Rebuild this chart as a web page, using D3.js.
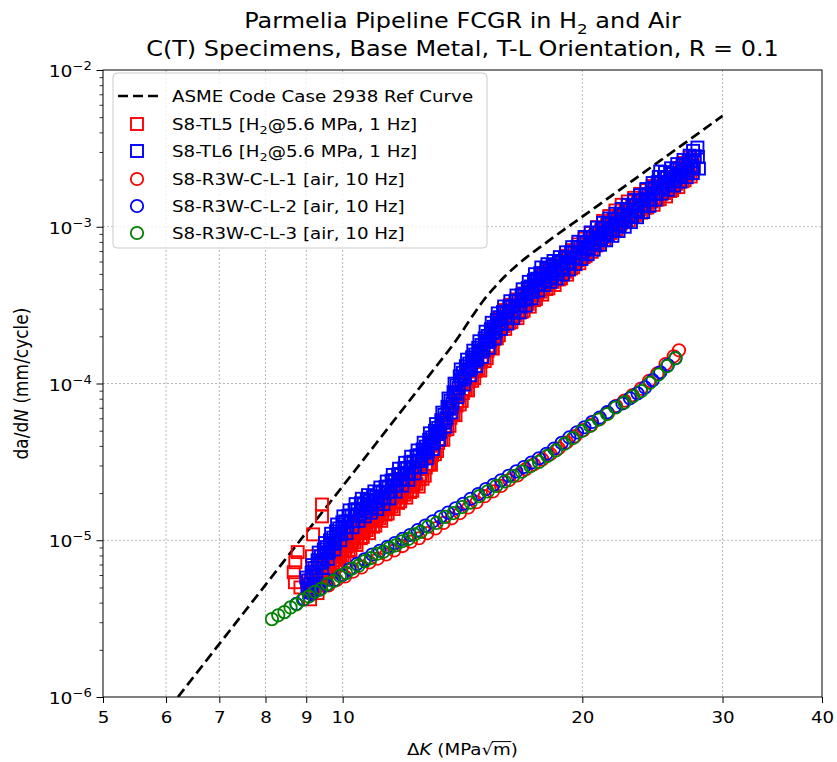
<!DOCTYPE html>
<html><head><meta charset="utf-8">
<script src="https://cdn.jsdelivr.net/npm/d3@7"></script>
<style>body{margin:0;background:#fff;} text{font-family:"DejaVu Sans",sans-serif;fill:#000;}</style>
</head><body><svg id="chart" width="837" height="762"></svg>
<script>
// ---------- data ----------
const xTickValues = [5, 6, 7, 8, 9, 10, 20, 30, 40];
const yTickValues = [1e-6, 1e-5, 1e-4, 1e-3, 1e-2];
const yTickExponents = ["−6", "−5", "−4", "−3", "−2"];

// ASME Code Case 2938 reference curve
const refK = [6.21, 7, 8, 9, 10, 11, 12, 13, 14, 14.5, 15, 15.5, 16, 16.5, 17, 18, 20, 22, 25, 28, 30];
const refRate = [1.0e-6, 2.18e-6, 5.19e-6, 1.12e-5, 2.21e-5, 4.11e-5, 7.24e-5, 1.22e-4, 2.0e-4, 2.62e-4, 3.35e-4, 4.08e-4, 4.85e-4, 5.6e-4, 6.35e-4, 7.9e-4, 1.16e-3, 1.64e-3, 2.62e-3, 3.96e-3, 5.1e-3];

// S8-TL5 [H2] red squares
const tl5K = [8.71, 8.68, 8.72, 8.78, 9.10, 9.15, 9.18, 9.42, 9.42, 8.85, 9.30,
  9.05, 9.16, 9.27, 9.39, 9.50, 9.61, 9.73, 9.84, 9.96, 10.08,
  10.20, 10.32, 10.44, 10.57, 10.69, 10.82, 10.96, 11.09, 11.22, 11.36,
  11.49, 11.63, 11.77, 11.91, 12.05, 12.19, 12.34, 12.49, 12.64, 12.80,
  12.95, 13.10, 13.26, 13.42, 13.58, 13.74, 13.90, 14.07, 14.24, 14.42,
  14.59, 14.76, 14.94, 15.12, 15.30, 15.48, 15.66, 15.85, 16.05, 16.24,
  16.43, 16.63, 16.83, 17.03, 17.23, 17.44, 17.66, 17.87, 18.08, 18.30,
  18.51, 18.74, 18.96, 19.19, 19.42, 19.66, 19.89, 20.13, 20.37, 20.61,
  20.86, 21.12, 21.37, 21.62, 21.88, 22.14, 22.41, 22.68, 22.95, 23.23,
  23.50, 23.78, 24.07, 24.37, 24.66, 24.95, 25.25, 25.55, 25.85, 26.17,
  26.48, 26.80, 27.12, 27.45,
  9.11, 9.22, 9.33, 9.44, 9.55, 9.67, 9.78, 9.90, 10.02, 10.14,
  10.26, 10.38, 10.51, 10.63, 10.76, 10.89, 11.02, 11.15, 11.29, 11.42,
  11.56, 11.70, 11.84, 11.98, 12.12, 12.27, 12.42, 12.56, 12.72, 12.87,
  13.02, 13.18, 13.34, 13.50, 13.66, 13.82, 13.99, 14.16, 14.33, 14.50,
  14.67, 14.85, 15.03, 15.21, 15.39, 15.57, 15.76, 15.95, 16.14, 16.33,
  16.53, 16.73, 16.93, 17.13, 17.34, 17.55, 17.76, 17.97, 18.19, 18.40,
  18.63, 18.85, 19.08, 19.30, 19.54, 19.77, 20.01, 20.25, 20.49, 20.74,
  20.99, 21.24, 21.49, 21.75, 22.01, 22.28, 22.54, 22.81, 23.09, 23.36,
  23.64, 23.93, 24.22, 24.51, 24.80, 25.10, 25.40, 25.70, 26.01, 26.32,
  26.64, 26.96, 27.28,
  9.08, 9.19, 9.30, 9.42, 9.53, 9.64, 9.76, 9.87, 9.99, 10.11,
  10.23, 10.35, 10.47, 10.60, 10.72, 10.85, 10.99, 11.12, 11.25, 11.39,
  11.52, 11.66, 11.81, 11.95, 12.09, 12.23, 12.38, 12.53, 12.68, 12.84,
  12.99, 13.14, 13.30, 13.46, 13.62, 13.78, 13.94, 14.11, 14.28, 14.46,
  14.63, 14.80, 14.98, 15.17, 15.35, 15.53, 15.71, 15.90, 16.10, 16.29,
  16.48, 16.68, 16.88, 17.08, 17.28, 17.49, 17.71, 17.92, 18.13, 18.35,
  18.57, 18.80, 19.02, 19.25, 19.48, 19.72, 19.95, 20.19, 20.43, 20.67,
  20.92, 21.18, 21.43, 21.68, 21.95, 22.21, 22.48, 22.75, 23.02, 23.30,
  23.57, 23.85, 24.14, 24.44, 24.73, 25.02, 25.33, 25.63, 25.93, 26.25,
  26.56, 26.88, 27.20, 27.53,
  9.14, 9.25, 9.36, 9.47, 9.58, 9.70, 9.81, 9.93, 10.05, 10.17,
  10.29, 10.41, 10.54, 10.66, 10.79, 10.92, 11.05, 11.18, 11.32, 11.45,
  11.59, 11.74, 11.88, 12.02, 12.16, 12.31, 12.46, 12.60, 12.76, 12.91,
  13.06, 13.22, 13.38, 13.54, 13.70, 13.86, 14.03, 14.20, 14.37, 14.54,
  14.71, 14.89, 15.08, 15.26, 15.44, 15.62, 15.81, 16.00, 16.19, 16.38,
  16.58, 16.78, 16.98, 17.18, 17.39, 17.60, 17.81, 18.02, 18.24, 18.46,
  18.69, 18.91, 19.14, 19.36, 19.60, 19.83, 20.07, 20.31, 20.55, 20.80,
  21.05, 21.30, 21.55, 21.82, 22.08, 22.35, 22.61, 22.88, 23.16, 23.43,
  23.71, 24.00, 24.29, 24.58, 24.87, 25.18, 25.48, 25.78, 26.09, 26.40,
  26.72, 27.04, 27.36];
const tl5Rate = [5.4e-6, 6.25e-6, 7.24e-6, 8.4e-6, 4.2e-6, 7.9e-6, 1.09e-5, 1.42e-5, 1.69e-5, 5.0e-6, 4.6e-6,
  4.93e-6, 6.31e-6, 5.97e-6, 5.75e-6, 7.48e-6, 7.21e-6, 7.06e-6, 9.18e-6, 8.87e-6, 8.63e-6,
  1.12e-5, 1.07e-5, 1.04e-5, 1.35e-5, 1.29e-5, 1.24e-5, 1.60e-5, 1.53e-5, 1.48e-5, 1.91e-5,
  1.82e-5, 1.76e-5, 2.28e-5, 2.16e-5, 2.07e-5, 2.66e-5, 2.54e-5, 2.45e-5, 3.33e-5, 3.40e-5,
  3.49e-5, 4.78e-5, 4.89e-5, 5.04e-5, 6.92e-5, 7.03e-5, 7.23e-5, 9.98e-5, 1.01e-4, 1.04e-4,
  1.39e-4, 1.37e-4, 1.38e-4, 1.87e-4, 1.88e-4, 1.92e-4, 2.61e-4, 2.58e-4, 2.48e-4, 3.18e-4,
  3.02e-4, 2.91e-4, 3.75e-4, 3.57e-4, 3.45e-4, 4.46e-4, 4.28e-4, 4.09e-4, 5.21e-4, 4.93e-4,
  4.71e-4, 6.03e-4, 5.73e-4, 5.52e-4, 7.10e-4, 6.78e-4, 6.52e-4, 8.39e-4, 8.00e-4, 7.71e-4,
  9.95e-4, 9.53e-4, 9.16e-4, 1.17e-3, 1.12e-3, 1.08e-3, 1.38e-3, 1.29e-3, 1.21e-3, 1.53e-3,
  1.43e-3, 1.36e-3, 1.71e-3, 1.61e-3, 1.53e-3, 1.93e-3, 1.82e-3, 1.73e-3, 2.20e-3, 2.08e-3,
  1.99e-3, 2.55e-3, 2.42e-3, 2.33e-3,
  5.55e-6, 5.32e-6, 6.81e-6, 6.52e-6, 6.36e-6, 8.29e-6, 8.01e-6, 7.82e-6, 1.02e-5, 9.76e-6,
  9.48e-6, 1.23e-5, 1.18e-5, 1.14e-5, 1.47e-5, 1.40e-5, 1.36e-5, 1.75e-5, 1.67e-5, 1.61e-5,
  2.08e-5, 1.99e-5, 1.92e-5, 2.46e-5, 2.34e-5, 2.25e-5, 2.89e-5, 2.84e-5, 2.91e-5, 4.00e-5,
  4.06e-5, 4.18e-5, 5.76e-5, 5.87e-5, 6.04e-5, 8.28e-5, 8.44e-5, 8.69e-5, 1.19e-4, 1.20e-4,
  1.20e-4, 1.60e-4, 1.60e-4, 1.62e-4, 2.21e-4, 2.23e-4, 2.25e-4, 2.94e-4, 2.80e-4, 2.69e-4,
  3.44e-4, 3.28e-4, 3.17e-4, 4.08e-4, 3.90e-4, 3.78e-4, 4.86e-4, 4.59e-4, 4.39e-4, 5.60e-4,
  5.30e-4, 5.09e-4, 6.53e-4, 6.22e-4, 6.00e-4, 7.72e-4, 7.35e-4, 7.10e-4, 9.12e-4, 8.71e-4,
  8.43e-4, 1.09e-3, 1.03e-3, 9.92e-4, 1.27e-3, 1.21e-3, 1.15e-3, 1.45e-3, 1.36e-3, 1.28e-3,
  1.62e-3, 1.52e-3, 1.44e-3, 1.82e-3, 1.71e-3, 1.62e-3, 2.06e-3, 1.94e-3, 1.86e-3, 2.37e-3,
  2.24e-3, 2.15e-3, 2.76e-3,
  5.22e-6, 4.90e-6, 5.38e-6, 6.10e-6, 5.81e-6, 6.50e-6, 7.48e-6, 7.13e-6, 8.00e-6, 9.14e-6,
  8.67e-6, 9.68e-6, 1.11e-5, 1.05e-5, 1.16e-5, 1.32e-5, 1.24e-5, 1.38e-5, 1.57e-5, 1.48e-5,
  1.64e-5, 1.87e-5, 1.77e-5, 1.95e-5, 2.20e-5, 2.07e-5, 2.29e-5, 2.59e-5, 2.58e-5, 3.06e-5,
  3.70e-5, 3.71e-5, 4.41e-5, 5.33e-5, 5.37e-5, 6.34e-5, 7.66e-5, 7.74e-5, 9.10e-5, 1.10e-4,
  1.08e-4, 1.24e-4, 1.46e-4, 1.45e-4, 1.69e-4, 2.03e-4, 2.03e-4, 2.32e-4, 2.63e-4, 2.47e-4,
  2.72e-4, 3.08e-4, 2.91e-4, 3.22e-4, 3.66e-4, 3.46e-4, 3.85e-4, 4.34e-4, 4.05e-4, 4.45e-4,
  4.99e-4, 4.68e-4, 5.16e-4, 5.85e-4, 5.51e-4, 6.11e-4, 6.90e-4, 6.52e-4, 7.21e-4, 8.17e-4,
  7.73e-4, 8.59e-4, 9.70e-4, 9.12e-4, 1.01e-3, 1.14e-3, 1.07e-3, 1.16e-3, 1.29e-3, 1.19e-3,
  1.29e-3, 1.44e-3, 1.33e-3, 1.45e-3, 1.62e-3, 1.50e-3, 1.64e-3, 1.84e-3, 1.71e-3, 1.88e-3,
  2.11e-3, 1.98e-3, 2.18e-3, 2.47e-3,
  4.83e-6, 5.57e-6, 5.16e-6, 5.68e-6, 6.66e-6, 6.29e-6, 6.97e-6, 8.18e-6, 7.71e-6, 8.50e-6,
  9.93e-6, 9.33e-6, 1.03e-5, 1.20e-5, 1.11e-5, 1.22e-5, 1.42e-5, 1.33e-5, 1.46e-5, 1.69e-5,
  1.58e-5, 1.73e-5, 2.01e-5, 1.87e-5, 2.03e-5, 2.36e-5, 2.20e-5, 2.47e-5, 3.05e-5, 3.03e-5,
  3.54e-5, 4.38e-5, 4.37e-5, 5.11e-5, 6.32e-5, 6.28e-5, 7.35e-5, 9.10e-5, 9.03e-5, 1.04e-4,
  1.25e-4, 1.21e-4, 1.39e-4, 1.70e-4, 1.67e-4, 1.94e-4, 2.35e-4, 2.23e-4, 2.44e-4, 2.81e-4,
  2.61e-4, 2.86e-4, 3.32e-4, 3.09e-4, 3.40e-4, 3.96e-4, 3.69e-4, 4.00e-4, 4.60e-4, 4.25e-4,
  4.61e-4, 5.33e-4, 4.95e-4, 5.42e-4, 6.29e-4, 5.85e-4, 6.40e-4, 7.43e-4, 6.92e-4, 7.59e-4,
  8.83e-4, 8.23e-4, 8.98e-4, 1.04e-3, 9.66e-4, 1.05e-3, 1.21e-3, 1.10e-3, 1.18e-3, 1.34e-3,
  1.23e-3, 1.32e-3, 1.51e-3, 1.38e-3, 1.49e-3, 1.70e-3, 1.56e-3, 1.69e-3, 1.94e-3, 1.79e-3,
  1.95e-3, 2.25e-3, 2.09e-3];

// S8-TL6 [H2] blue squares
const tl6K = [9.00, 9.11, 9.22, 9.33, 9.44, 9.55, 9.67, 9.78, 9.90, 10.02,
  10.14, 10.26, 10.38, 10.51, 10.63, 10.76, 10.89, 11.02, 11.15, 11.29,
  11.42, 11.56, 11.70, 11.84, 11.98, 12.12, 12.27, 12.42, 12.56, 12.72,
  12.87, 13.02, 13.18, 13.34, 13.50, 13.66, 13.82, 13.99, 14.16, 14.33,
  14.50, 14.67, 14.85, 15.03, 15.21, 15.39, 15.57, 15.76, 15.95, 16.14,
  16.33, 16.53, 16.73, 16.93, 17.13, 17.34, 17.55, 17.76, 17.97, 18.19,
  18.40, 18.63, 18.85, 19.08, 19.30, 19.54, 19.77, 20.01, 20.25, 20.49,
  20.74, 20.99, 21.24, 21.49, 21.75, 22.01, 22.28, 22.54, 22.81, 23.09,
  23.36, 23.64, 23.93, 24.22, 24.51, 24.80, 25.10, 25.40, 25.70, 26.01,
  26.32, 26.64, 26.96, 27.28, 27.61, 27.94,
  27.55, 27.90, 25.05, 9.15, 9.45,
  9.05, 9.16, 9.27, 9.39, 9.50, 9.61, 9.73, 9.84, 9.96, 10.08,
  10.20, 10.32, 10.44, 10.57, 10.69, 10.82, 10.96, 11.09, 11.22, 11.36,
  11.49, 11.63, 11.77, 11.91, 12.05, 12.19, 12.34, 12.49, 12.64, 12.80,
  12.95, 13.10, 13.26, 13.42, 13.58, 13.74, 13.90, 14.07, 14.24, 14.42,
  14.59, 14.76, 14.94, 15.12, 15.30, 15.48, 15.66, 15.85, 16.05, 16.24,
  16.43, 16.63, 16.83, 17.03, 17.23, 17.44, 17.66, 17.87, 18.08, 18.30,
  18.51, 18.74, 18.96, 19.19, 19.42, 19.66, 19.89, 20.13, 20.37, 20.61,
  20.86, 21.12, 21.37, 21.62, 21.88, 22.14, 22.41, 22.68, 22.95, 23.23,
  23.50, 23.78, 24.07, 24.37, 24.66, 24.95, 25.25, 25.55, 25.85, 26.17,
  26.48, 26.80, 27.12, 27.45,
  9.03, 9.14, 9.25, 9.36, 9.47, 9.58, 9.70, 9.81, 9.93, 10.05,
  10.17, 10.29, 10.41, 10.54, 10.66, 10.79, 10.92, 11.05, 11.18, 11.32,
  11.45, 11.59, 11.74, 11.88, 12.02, 12.16, 12.31, 12.46, 12.60, 12.76,
  12.91, 13.06, 13.22, 13.38, 13.54, 13.70, 13.86, 14.03, 14.20, 14.37,
  14.54, 14.71, 14.89, 15.08, 15.26, 15.44, 15.62, 15.81, 16.00, 16.19,
  16.38, 16.58, 16.78, 16.98, 17.18, 17.39, 17.60, 17.81, 18.02, 18.24,
  18.46, 18.69, 18.91, 19.14, 19.36, 19.60, 19.83, 20.07, 20.31, 20.55,
  20.80, 21.05, 21.30, 21.55, 21.82, 22.08, 22.35, 22.61, 22.88, 23.16,
  23.43, 23.71, 24.00, 24.29, 24.58, 24.87, 25.18, 25.48, 25.78, 26.09,
  26.40, 26.72, 27.04, 27.36, 27.69, 28.02,
  9.08, 9.19, 9.30, 9.42, 9.53, 9.64, 9.76, 9.87, 9.99, 10.11,
  10.23, 10.35, 10.47, 10.60, 10.72, 10.85, 10.99, 11.12, 11.25, 11.39,
  11.52, 11.66, 11.81, 11.95, 12.09, 12.23, 12.38, 12.53, 12.68, 12.84,
  12.99, 13.14, 13.30, 13.46, 13.62, 13.78, 13.94, 14.11, 14.28, 14.46,
  14.63, 14.80, 14.98, 15.17, 15.35, 15.53, 15.71, 15.90, 16.10, 16.29,
  16.48, 16.68, 16.88, 17.08, 17.28, 17.49, 17.71, 17.92, 18.13, 18.35,
  18.57, 18.80, 19.02, 19.25, 19.48, 19.72, 19.95, 20.19, 20.43, 20.67,
  20.92, 21.18, 21.43, 21.68, 21.95, 22.21, 22.48, 22.75, 23.02, 23.30,
  23.57, 23.85, 24.14, 24.44, 24.73, 25.02, 25.33, 25.63, 25.93, 26.25,
  26.56, 26.88, 27.20, 27.53];
const tl6Rate = [5.78e-6, 5.25e-6, 6.65e-6, 8.34e-6, 7.40e-6, 9.04e-6, 1.10e-5, 9.66e-6, 1.19e-5, 1.42e-5,
  1.21e-5, 1.44e-5, 1.70e-5, 1.46e-5, 1.69e-5, 1.94e-5, 1.62e-5, 1.88e-5, 2.17e-5, 1.85e-5,
  2.20e-5, 2.61e-5, 2.23e-5, 2.65e-5, 3.12e-5, 2.65e-5, 3.17e-5, 3.74e-5, 3.21e-5, 3.96e-5,
  4.81e-5, 4.23e-5, 5.21e-5, 6.52e-5, 6.01e-5, 7.76e-5, 9.98e-5, 9.35e-5, 1.17e-4, 1.42e-4,
  1.25e-4, 1.53e-4, 1.86e-4, 1.64e-4, 2.01e-4, 2.44e-4, 2.15e-4, 2.65e-4, 3.10e-4, 2.62e-4,
  3.10e-4, 3.64e-4, 3.10e-4, 3.73e-4, 4.45e-4, 3.85e-4, 4.66e-4, 5.50e-4, 4.56e-4, 5.28e-4,
  6.05e-4, 5.04e-4, 5.89e-4, 6.87e-4, 5.79e-4, 6.87e-4, 8.02e-4, 6.76e-4, 7.94e-4, 9.20e-4,
  7.74e-4, 9.12e-4, 1.06e-3, 8.87e-4, 1.04e-3, 1.21e-3, 1.02e-3, 1.19e-3, 1.38e-3, 1.16e-3,
  1.37e-3, 1.59e-3, 1.36e-3, 1.61e-3, 1.90e-3, 1.62e-3, 1.93e-3, 2.23e-3, 1.86e-3, 2.17e-3,
  2.51e-3, 2.10e-3, 2.45e-3, 2.84e-3, 2.38e-3, 2.79e-3,
  3.05e-3, 3.20e-3, 2.25e-3, 4.8e-6, 5.6e-6,
  5.54e-6, 6.94e-6, 6.30e-6, 7.90e-6, 9.60e-6, 8.44e-6, 1.04e-5, 1.26e-5, 1.10e-5, 1.32e-5,
  1.55e-5, 1.32e-5, 1.58e-5, 1.84e-5, 1.53e-5, 1.78e-5, 2.05e-5, 1.71e-5, 2.02e-5, 2.37e-5,
  2.03e-5, 2.42e-5, 2.86e-5, 2.43e-5, 2.89e-5, 3.41e-5, 2.91e-5, 3.49e-5, 4.19e-5, 3.69e-5,
  4.53e-5, 5.51e-5, 4.93e-5, 6.30e-5, 8.02e-5, 7.45e-5, 9.72e-5, 1.23e-4, 1.09e-4, 1.34e-4,
  1.62e-4, 1.43e-4, 1.76e-4, 2.14e-4, 1.88e-4, 2.30e-4, 2.80e-4, 2.42e-4, 2.87e-4, 3.35e-4,
  2.84e-4, 3.38e-4, 3.99e-4, 3.45e-4, 4.16e-4, 4.98e-4, 4.28e-4, 5.04e-4, 5.77e-4, 4.79e-4,
  5.55e-4, 6.40e-4, 5.38e-4, 6.35e-4, 7.41e-4, 6.28e-4, 7.40e-4, 8.61e-4, 7.24e-4, 8.49e-4,
  9.87e-4, 8.31e-4, 9.74e-4, 1.13e-3, 9.48e-4, 1.12e-3, 1.30e-3, 1.09e-3, 1.28e-3, 1.48e-3,
  1.25e-3, 1.48e-3, 1.74e-3, 1.48e-3, 1.77e-3, 2.08e-3, 1.76e-3, 2.05e-3, 2.36e-3, 1.97e-3,
  2.31e-3, 2.67e-3, 2.23e-3, 2.62e-3,
  4.98e-6, 6.20e-6, 5.60e-6, 7.18e-6, 8.74e-6, 7.60e-6, 9.48e-6, 1.14e-5, 1.00e-5, 1.22e-5,
  1.43e-5, 1.21e-5, 1.46e-5, 1.72e-5, 1.42e-5, 1.67e-5, 1.91e-5, 1.58e-5, 1.87e-5, 2.19e-5,
  1.85e-5, 2.24e-5, 2.63e-5, 2.23e-5, 2.69e-5, 3.14e-5, 2.67e-5, 3.22e-5, 3.80e-5, 3.33e-5,
  4.14e-5, 4.99e-5, 4.39e-5, 5.61e-5, 7.10e-5, 6.53e-5, 8.59e-5, 1.11e-4, 9.84e-5, 1.22e-4,
  1.47e-4, 1.29e-4, 1.60e-4, 1.94e-4, 1.69e-4, 2.10e-4, 2.54e-4, 2.23e-4, 2.67e-4, 3.10e-4,
  2.61e-4, 3.13e-4, 3.66e-4, 3.14e-4, 3.83e-4, 4.56e-4, 3.92e-4, 4.73e-4, 5.39e-4, 4.45e-4,
  5.21e-4, 5.95e-4, 4.95e-4, 5.92e-4, 6.85e-4, 5.78e-4, 6.90e-4, 7.99e-4, 6.68e-4, 7.93e-4,
  9.15e-4, 7.67e-4, 9.10e-4, 1.05e-3, 8.75e-4, 1.04e-3, 1.20e-3, 1.00e-3, 1.19e-3, 1.38e-3,
  1.15e-3, 1.37e-3, 1.60e-3, 1.36e-3, 1.64e-3, 1.92e-3, 1.63e-3, 1.92e-3, 2.20e-3, 1.83e-3,
  2.16e-3, 2.48e-3, 2.07e-3, 2.44e-3, 2.82e-3, 2.35e-3,
  4.66e-6, 5.98e-6, 7.45e-6, 6.65e-6, 8.27e-6, 9.98e-6, 8.73e-6, 1.09e-5, 1.30e-5, 1.11e-5,
  1.33e-5, 1.56e-5, 1.33e-5, 1.59e-5, 1.81e-5, 1.50e-5, 1.77e-5, 2.02e-5, 1.70e-5, 2.04e-5,
  2.40e-5, 2.04e-5, 2.46e-5, 2.88e-5, 2.43e-5, 2.93e-5, 3.44e-5, 2.93e-5, 3.61e-5, 4.37e-5,
  3.82e-5, 4.75e-5, 5.83e-5, 5.30e-5, 6.91e-5, 8.80e-5, 8.18e-5, 1.06e-4, 1.29e-4, 1.13e-4,
  1.40e-4, 1.69e-4, 1.48e-4, 1.84e-4, 2.22e-4, 1.94e-4, 2.41e-4, 2.86e-4, 2.41e-4, 2.89e-4,
  3.36e-4, 2.84e-4, 3.44e-4, 4.07e-4, 3.50e-4, 4.29e-4, 5.06e-4, 4.24e-4, 4.97e-4, 5.65e-4,
  4.67e-4, 5.51e-4, 6.36e-4, 5.34e-4, 6.38e-4, 7.42e-4, 6.23e-4, 7.41e-4, 8.55e-4, 7.14e-4,
  8.50e-4, 9.82e-4, 8.19e-4, 9.72e-4, 1.12e-3, 9.39e-4, 1.12e-3, 1.29e-3, 1.07e-3, 1.28e-3,
  1.47e-3, 1.24e-3, 1.50e-3, 1.75e-3, 1.49e-3, 1.79e-3, 2.07e-3, 1.72e-3, 2.03e-3, 2.33e-3,
  1.94e-3, 2.30e-3, 2.64e-3, 2.20e-3];

// S8-R3W-C-L-1 [air] red circles
const cl1K = [9.60, 9.83, 10.07, 10.31, 10.56, 10.81, 11.07, 11.34, 11.61, 11.89,
  12.18, 12.47, 12.77, 13.08, 13.39, 13.71, 14.04, 14.38, 14.73, 15.08,
  15.44, 15.81, 16.19, 16.58, 16.98, 17.39, 17.81, 18.24, 18.68, 19.13,
  19.59, 20.06, 20.54, 21.03, 21.54, 22.06, 22.59, 23.13, 23.69, 24.26,
  24.84, 25.44, 26.05, 26.45];
const cl1Rate = [5.15e-6, 5.57e-6, 5.87e-6, 6.31e-6, 6.71e-6, 7.23e-6, 7.64e-6, 8.11e-6, 8.61e-6, 9.18e-6,
  9.79e-6, 1.03e-5, 1.11e-5, 1.19e-5, 1.29e-5, 1.38e-5, 1.49e-5, 1.62e-5, 1.75e-5, 1.91e-5,
  2.05e-5, 2.22e-5, 2.42e-5, 2.59e-5, 2.84e-5, 3.05e-5, 3.28e-5, 3.55e-5, 3.86e-5, 4.22e-5,
  4.61e-5, 5.04e-5, 5.46e-5, 5.93e-5, 6.46e-5, 7.19e-5, 7.78e-5, 8.43e-5, 9.27e-5, 1.04e-4,
  1.16e-4, 1.33e-4, 1.49e-4, 1.63e-4];

// S8-R3W-C-L-2 [air] blue circles
const cl2K = [8.75, 8.94, 9.14, 9.34, 9.55, 9.76, 9.98, 10.20, 10.42, 10.65,
  10.89, 11.13, 11.38, 11.63, 11.89, 12.15, 12.42, 12.70, 12.98, 13.27,
  13.56, 13.86, 14.17, 14.48, 14.80, 15.13, 15.47, 15.81, 16.16, 16.52,
  16.89, 17.26, 17.64, 18.03, 18.43, 18.84, 19.26, 19.69, 20.12, 20.57,
  21.03, 21.49, 21.97, 22.46, 22.95, 23.46, 23.98, 24.51, 25.06, 25.61, 26.18];
const cl2Rate = [3.93e-6, 4.21e-6, 4.52e-6, 4.83e-6, 5.19e-6, 5.57e-6, 5.98e-6, 6.55e-6, 7.06e-6, 7.55e-6,
  8.11e-6, 8.57e-6, 9.08e-6, 9.59e-6, 1.02e-5, 1.08e-5, 1.16e-5, 1.24e-5, 1.32e-5, 1.41e-5,
  1.50e-5, 1.60e-5, 1.71e-5, 1.84e-5, 1.97e-5, 2.12e-5, 2.26e-5, 2.41e-5, 2.58e-5, 2.75e-5,
  2.93e-5, 3.13e-5, 3.33e-5, 3.56e-5, 3.85e-5, 4.18e-5, 4.53e-5, 4.88e-5, 5.26e-5, 5.68e-5,
  6.07e-5, 6.56e-5, 7.10e-5, 7.46e-5, 8.04e-5, 8.65e-5, 9.44e-5, 1.05e-4, 1.18e-4, 1.31e-4, 1.45e-4];

// S8-R3W-C-L-3 [air] green circles
const cl3K = [8.15, 8.30, 8.45, 8.60, 8.75, 8.91, 9.07, 9.23, 9.40, 9.57,
  9.74, 9.92, 10.10, 10.28, 10.47, 10.66, 10.85, 11.05, 11.25, 11.45,
  11.66, 11.87, 12.09, 12.31, 12.53, 12.80, 13.12, 13.45, 13.78, 14.13,
  14.48, 14.84, 15.21, 15.59, 15.98, 16.38, 16.79, 17.21, 17.64, 18.08,
  18.53, 19.00, 19.47, 19.96, 20.46, 20.97, 21.49, 22.03, 22.58, 23.15,
  23.72, 24.32, 24.92, 25.55, 26.18];
const cl3Rate = [3.14e-6, 3.32e-6, 3.48e-6, 3.73e-6, 3.90e-6, 4.18e-6, 4.38e-6, 4.69e-6, 4.90e-6, 5.25e-6,
  5.50e-6, 5.92e-6, 6.17e-6, 6.60e-6, 6.88e-6, 7.36e-6, 7.70e-6, 8.20e-6, 8.46e-6, 8.96e-6,
  9.28e-6, 9.85e-6, 1.02e-5, 1.09e-5, 1.13e-5, 1.22e-5, 1.29e-5, 1.41e-5, 1.49e-5, 1.63e-5,
  1.74e-5, 1.91e-5, 2.05e-5, 2.22e-5, 2.37e-5, 2.57e-5, 2.74e-5, 2.97e-5, 3.16e-5, 3.45e-5,
  3.74e-5, 4.13e-5, 4.49e-5, 4.97e-5, 5.36e-5, 5.89e-5, 6.38e-5, 7.03e-5, 7.57e-5, 8.29e-5,
  8.95e-5, 1.01e-4, 1.14e-4, 1.29e-4, 1.45e-4];

const seriesNames = ["ASME Code Case 2938 Ref Curve",
  "S8-TL5 [H₂@5.6 MPa, 1 Hz]", "S8-TL6 [H₂@5.6 MPa, 1 Hz]",
  "S8-R3W-C-L-1 [air, 10 Hz]", "S8-R3W-C-L-2 [air, 10 Hz]", "S8-R3W-C-L-3 [air, 10 Hz]"];

// ---------- drawing ----------
const M = {l: 103, r: 822, t: 70, b: 697};
const HS = 1.14; // horizontal stretch of the text in the reference
const svg = d3.select('#chart');
const x = d3.scaleLog().domain([5, 40]).range([M.l, M.r]);
const y = d3.scaleLog().domain([1e-6, 1e-2]).range([M.b, M.t]);

function rich(sel, parts, fs) {
  let shift = 0;
  parts.forEach(p => {
    const target = p.sub ? fs * 0.28 : (p.sup ? -fs * 0.42 : 0);
    const t = sel.append('tspan').text(p.t).attr('dy', target - shift)
      .attr('font-size', (p.sub || p.sup) ? fs * 0.7 : fs);
    if (p.it) t.attr('font-style', 'italic');
    shift = target;
  });
}
function stext(parent, px, py, anchor, fs, sx) {
  const g = parent.append('g').attr('transform', `translate(${px},${py}) scale(${sx || HS},1)`);
  return g.append('text').attr('x', 0).attr('y', 0).attr('text-anchor', anchor).attr('font-size', fs);
}
function partsFor(label) {
  const i = label.indexOf('₂');
  if (i < 0) return [{t: label}];
  return [{t: label.slice(0, i)}, {t: '2', sub: true}, {t: label.slice(i + 1)}];
}

// title
const cx = (M.l + M.r) / 2;
rich(stext(svg, cx, 28, 'middle', 21), [{t: 'Parmelia Pipeline FCGR in H'}, {t: '2', sub: true}, {t: ' and Air'}], 21);
stext(svg, cx, 56, 'middle', 21).text('C(T) Specimens, Base Metal, T-L Orientation, R = 0.1');

// grid
const grid = svg.append('g').attr('stroke', '#b8b8b8').attr('stroke-width', 1).attr('stroke-dasharray', '2,2');
xTickValues.slice(1, -1).forEach(v => grid.append('line')
  .attr('x1', x(v)).attr('x2', x(v)).attr('y1', M.t).attr('y2', M.b));
yTickValues.slice(1, -1).forEach(v => grid.append('line')
  .attr('y1', y(v)).attr('y2', y(v)).attr('x1', M.l).attr('x2', M.r));

svg.append('clipPath').attr('id', 'clip').append('rect')
  .attr('x', M.l).attr('y', M.t).attr('width', M.r - M.l).attr('height', M.b - M.t);
const plot = svg.append('g').attr('clip-path', 'url(#clip)');

// reference curve
const refData = refK.map((k, i) => [k, refRate[i]]);
const DASH = '10,5';
plot.append('path').datum(refData)
  .attr('d', d3.line().x(d => x(d[0])).y(d => y(d[1])).curve(d3.curveMonotoneX))
  .attr('fill', 'none').attr('stroke', '#000').attr('stroke-width', 2.7).attr('stroke-dasharray', DASH);

const SQ = 12, R = 6.2, MW = 1.9;
function squares(ks, rs, color) {
  plot.append('g').selectAll('rect').data(ks.map((k, i) => [k, rs[i]])).join('rect')
    .attr('x', d => x(d[0]) - SQ / 2).attr('y', d => y(d[1]) - SQ / 2)
    .attr('width', SQ).attr('height', SQ)
    .attr('fill', 'none').attr('stroke', color).attr('stroke-width', MW);
}
function circles(ks, rs, color) {
  plot.append('g').selectAll('circle').data(ks.map((k, i) => [k, rs[i]])).join('circle')
    .attr('cx', d => x(d[0])).attr('cy', d => y(d[1])).attr('r', R)
    .attr('fill', 'none').attr('stroke', color).attr('stroke-width', 1.8);
}
const RED = '#ff0000', BLUE = '#0000ff', GREEN = '#008000';
squares(tl5K, tl5Rate, RED);
squares(tl6K, tl6Rate, BLUE);
circles(cl1K, cl1Rate, RED);
circles(cl2K, cl2Rate, BLUE);
circles(cl3K, cl3Rate, GREEN);

// axes
const xAxis = svg.append('g').attr('transform', `translate(0,${M.b})`)
  .call(d3.axisBottom(x).tickValues(xTickValues).tickFormat(d3.format('d')).tickSize(6).tickPadding(9));
xAxis.select('.domain').remove();
xAxis.selectAll('text').attr('font-size', 16).attr('font-family', '"DejaVu Sans",sans-serif')
  .attr('fill', '#000').attr('transform', `scale(${HS},1)`);
xAxis.selectAll('line').attr('stroke', '#000').attr('stroke-width', 1);

const minor = [];
for (let e = -6; e < -2; e++) for (let m = 2; m <= 9; m++) minor.push(m * Math.pow(10, e));
const yMinor = svg.append('g').attr('transform', `translate(${M.l},0)`)
  .call(d3.axisLeft(y).tickValues(minor).tickFormat('').tickSize(3.5));
yMinor.select('.domain').remove();
yMinor.selectAll('line').attr('stroke', '#000').attr('stroke-width', 0.8);
const yAxis = svg.append('g').attr('transform', `translate(${M.l},0)`)
  .call(d3.axisLeft(y).tickValues(yTickValues).tickFormat('').tickSize(6.5));
yAxis.select('.domain').remove();
yAxis.selectAll('line').attr('stroke', '#000').attr('stroke-width', 1);
yTickValues.forEach((v, i) => {
  rich(stext(svg, M.l - 11, y(v) + 7, 'end', 16.5), [{t: '10'}, {t: yTickExponents[i], sup: true}], 16.5);
});

// frame
svg.append('rect').attr('x', M.l).attr('y', M.t).attr('width', M.r - M.l).attr('height', M.b - M.t)
  .attr('fill', 'none').attr('stroke', '#000').attr('stroke-width', 1);

// axis labels
const ylg = svg.append('g').attr('transform', `translate(28,${(M.t + M.b) / 2}) scale(${HS},1) rotate(-90)`);
const yl = ylg.append('text').attr('text-anchor', 'middle').attr('font-size', 17);
rich(yl, [{t: 'da/d'}, {t: 'N', it: true}, {t: ' (mm/cycle)'}], 17);

const xl = stext(svg, cx, 755, 'middle', 16);
rich(xl, [{t: 'Δ'}, {t: 'K', it: true}, {t: ' (MPa√'}, {t: 'm'}, {t: ')'}], 16);
try {
  const node = xl.node();
  const txt = node.textContent;
  const iRad = txt.indexOf('√'), iM = txt.indexOf('m)');
  const a = node.getExtentOfChar(iRad), b = node.getExtentOfChar(iM);
  d3.select(node.parentNode).append('line').attr('x1', a.x + a.width - 1).attr('x2', b.x + b.width + 0.5)
    .attr('y1', a.y + 1.5).attr('y2', a.y + 1.5).attr('stroke', '#000').attr('stroke-width', 1);
} catch (e) {}

// legend
const lg = svg.append('g');
lg.append('rect').attr('x', 113).attr('y', 73).attr('width', 374).attr('height', 175).attr('rx', 4)
  .attr('fill', '#fff').attr('fill-opacity', 0.8).attr('stroke', '#cccccc').attr('stroke-width', 1);
const rowY = [96, 124, 151, 179, 206, 233];
const legendKinds = [
  {kind: 'line', color: '#000'}, {kind: 'sq', color: RED}, {kind: 'sq', color: BLUE},
  {kind: 'ci', color: RED}, {kind: 'ci', color: BLUE}, {kind: 'ci', color: GREEN}];
legendKinds.forEach((k, i) => {
  const cy = rowY[i];
  if (k.kind === 'line') {
    lg.append('line').attr('x1', 118).attr('x2', 158).attr('y1', cy).attr('y2', cy)
      .attr('stroke', '#000').attr('stroke-width', 2.7).attr('stroke-dasharray', DASH);
  } else if (k.kind === 'sq') {
    lg.append('rect').attr('x', 137 - SQ / 2).attr('y', cy - SQ / 2).attr('width', SQ).attr('height', SQ)
      .attr('fill', 'none').attr('stroke', k.color).attr('stroke-width', MW);
  } else {
    lg.append('circle').attr('cx', 137).attr('cy', cy).attr('r', R)
      .attr('fill', 'none').attr('stroke', k.color).attr('stroke-width', 1.8);
  }
  rich(stext(lg, 172, cy + 6, 'start', 16), partsFor(seriesNames[i]), 16);
});
</script></body></html>
